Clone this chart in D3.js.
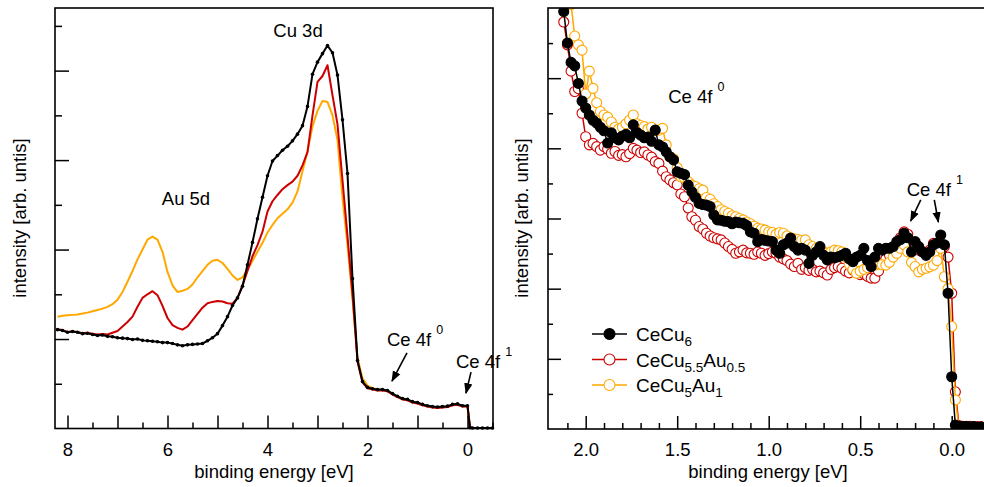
<!DOCTYPE html>
<html>
<head>
<meta charset="utf-8">
<script src="https://cdn.jsdelivr.net/npm/d3@7"></script>
<style>
  body { margin: 0; background: #fff; }
  #showBox { width: 984px; height: 487px; }
</style>
</head>
<body>
<div id="showBox"></div>
<script>
// left panel: wide valence band scan
const leftEnergy = [
    8.2, 8.1, 8.0, 7.9, 7.8, 7.7, 7.6, 7.5, 7.4, 7.3,
    7.2, 7.1, 7.0, 6.9, 6.8, 6.7, 6.6, 6.5, 6.4, 6.3,
    6.2, 6.1, 6.0, 5.9, 5.8, 5.7, 5.6, 5.5, 5.4, 5.3,
    5.2, 5.1, 5.0, 4.9, 4.8, 4.7, 4.6, 4.5, 4.4, 4.3,
    4.2, 4.1, 4.0, 3.9, 3.8, 3.7, 3.6, 3.5, 3.4, 3.3,
    3.2, 3.1, 3.0, 2.9, 2.8, 2.7, 2.6, 2.5, 2.4, 2.3,
    2.2, 2.1, 2.0, 1.9, 1.8, 1.7, 1.6, 1.5, 1.4, 1.3,
    1.2, 1.1, 1.0, 0.9, 0.8, 0.7, 0.6, 0.5, 0.4, 0.3,
    0.2, 0.1, 0.0, -0.05, -0.1, -0.2, -0.3, -0.4, -0.5]
const leftCeCu6 = [
    2.21, 2.19, 2.15, 2.17, 2.15, 2.12, 2.13, 2.10, 2.08, 2.09,
    2.06, 2.05, 2.03, 2.02, 2.01, 1.99, 2.00, 1.97, 1.96, 1.95,
    1.94, 1.92, 1.92, 1.90, 1.87, 1.85, 1.87, 1.88, 1.89, 1.90,
    1.96, 2.03, 2.12, 2.30, 2.50, 2.75, 2.92, 3.18, 3.66, 4.16,
    4.69, 5.17, 5.65, 5.98, 6.10, 6.22, 6.31, 6.43, 6.58, 6.77,
    7.20, 7.92, 8.19, 8.38, 8.56, 8.40, 7.90, 6.90, 5.70, 3.35,
    1.52, 1.05, 0.92, 0.89, 0.87, 0.87, 0.85, 0.78, 0.72, 0.67,
    0.65, 0.60, 0.58, 0.54, 0.51, 0.49, 0.48, 0.49, 0.50, 0.54,
    0.55, 0.51, 0.51, 0.02, 0.01, 0.01, 0.01, 0.01, 0.01]
const leftCeCu55Au05 = [
    2.22, 2.20, 2.16, 2.17, 2.16, 2.13, 2.14, 2.12, 2.10, 2.11,
    2.10, 2.14, 2.18, 2.28, 2.38, 2.50, 2.72, 2.92, 3.00, 3.07,
    2.98, 2.74, 2.47, 2.31, 2.25, 2.21, 2.28, 2.42, 2.56, 2.70,
    2.80, 2.83, 2.85, 2.84, 2.80, 2.79, 2.92, 3.20, 3.52, 3.85,
    4.10, 4.40, 4.85, 5.08, 5.22, 5.35, 5.44, 5.52, 5.65, 5.88,
    6.18, 7.00, 7.75, 7.88, 8.12, 7.45, 6.80, 5.55, 4.30, 3.00,
    1.50, 1.03, 0.90, 0.87, 0.85, 0.85, 0.83, 0.76, 0.70, 0.65,
    0.63, 0.58, 0.56, 0.52, 0.49, 0.47, 0.46, 0.47, 0.48, 0.52,
    0.53, 0.49, 0.49, 0.02, 0.01, 0.01, 0.01, 0.01, 0.01]
const leftCeCu5Au1 = [
    2.50, 2.52, 2.53, 2.54, 2.55, 2.57, 2.59, 2.62, 2.65, 2.68,
    2.72, 2.78, 2.88, 3.05, 3.28, 3.52, 3.78, 4.00, 4.22, 4.29,
    4.22, 3.95, 3.50, 3.20, 3.05, 3.08, 3.12, 3.22, 3.38, 3.52,
    3.66, 3.75, 3.77, 3.70, 3.57, 3.42, 3.32, 3.38, 3.55, 3.75,
    3.95, 4.15, 4.38, 4.55, 4.70, 4.80, 4.90, 5.05, 5.30, 5.75,
    6.20, 6.75, 7.10, 7.32, 7.30, 7.00, 6.45, 5.15, 4.10, 2.90,
    1.58, 1.12, 0.96, 0.90, 0.87, 0.86, 0.84, 0.77, 0.71, 0.66,
    0.64, 0.59, 0.57, 0.53, 0.50, 0.48, 0.47, 0.48, 0.49, 0.52,
    0.54, 0.50, 0.50, 0.02, 0.01, 0.01, 0.01, 0.01, 0.01]

// right panel: near the Fermi level
const rightEnergy = [
    2.12, 2.10, 2.08, 2.06, 2.04, 2.02, 2.00, 1.98, 1.96, 1.94,
    1.92, 1.90, 1.88, 1.86, 1.84, 1.82, 1.80, 1.78, 1.76, 1.74,
    1.72, 1.70, 1.68, 1.66, 1.64, 1.62, 1.60, 1.58, 1.56, 1.54,
    1.52, 1.50, 1.48, 1.46, 1.44, 1.42, 1.40, 1.38, 1.36, 1.34,
    1.32, 1.30, 1.28, 1.26, 1.24, 1.22, 1.20, 1.18, 1.16, 1.14,
    1.12, 1.10, 1.08, 1.06, 1.04, 1.02, 1.00, 0.98, 0.96, 0.94,
    0.92, 0.90, 0.88, 0.86, 0.84, 0.82, 0.80, 0.78, 0.76, 0.74,
    0.72, 0.70, 0.68, 0.66, 0.64, 0.62, 0.60, 0.58, 0.56, 0.54,
    0.52, 0.50, 0.48, 0.46, 0.44, 0.42, 0.40, 0.38, 0.36, 0.34,
    0.32, 0.30, 0.28, 0.26, 0.24, 0.22, 0.20, 0.18, 0.16, 0.14,
    0.12, 0.10, 0.08, 0.06, 0.04, 0.02, 0.00, -0.02, -0.04, -0.06,
    -0.08, -0.10, -0.12, -0.14, -0.16]
const rightCeCu6 = [
    11.9, 11.0, 10.45, 10.35, 9.85, 9.35, 9.15, 8.95, 8.80, 8.72,
    8.60, 8.50, 8.15, 8.44, 8.30, 8.24, 8.35, 8.40, 8.30, 8.67,
    8.45, 8.38, 8.30, 8.32, 8.20, 8.52, 8.10, 8.04, 7.90, 7.76,
    7.67, 7.33, 7.29, 7.25, 6.95, 6.76, 6.60, 6.43, 6.40, 6.38,
    6.34, 6.10, 5.96, 5.95, 5.92, 5.91, 5.85, 5.90, 5.88, 5.86,
    5.80, 5.62, 5.58, 5.34, 5.40, 5.38, 5.36, 5.34, 5.10, 5.01,
    5.25, 5.30, 5.44, 5.20, 5.10, 5.15, 5.10, 4.72, 4.95, 5.05,
    5.20, 4.95, 4.82, 4.90, 4.88, 4.91, 4.95, 5.01, 4.85, 4.77,
    4.90, 4.95, 5.15, 4.80, 4.63, 4.90, 5.15, 5.10, 5.15, 5.15,
    5.20, 5.34, 5.40, 5.58, 5.45, 5.05, 5.34, 5.20, 5.05, 4.95,
    5.05, 5.25, 5.30, 5.53, 5.25, 3.87, 1.49, 0.11, 0.08, 0.07,
    0.08, 0.06, 0.07, 0.05, 0.06]
const rightCeCu55Au05 = [
    11.6, 10.95, 10.20, 9.62, 9.70, 9.00, 8.33, 8.10, 8.14, 8.05,
    7.95, 8.05, 7.98, 7.86, 7.91, 7.80, 7.82, 7.76, 7.85, 8.00,
    7.95, 7.88, 7.90, 7.81, 7.75, 7.62, 7.57, 7.35, 7.19, 7.10,
    7.02, 6.96, 6.70, 6.62, 6.30, 6.05, 5.95, 5.77, 5.70, 5.58,
    5.50, 5.45, 5.42, 5.39, 5.30, 5.20, 5.12, 5.01, 5.05, 5.10,
    5.02, 5.01, 4.98, 5.05, 5.01, 4.95, 5.00, 5.05, 5.01, 4.90,
    4.85, 4.80, 4.70, 4.63, 4.72, 4.55, 4.60, 4.52, 4.55, 4.48,
    4.50, 4.45, 4.39, 4.55, 4.60, 4.63, 4.58, 4.50, 4.45, 4.53,
    4.48, 4.40, 4.42, 4.35, 4.30, 4.30, 4.50, 4.72, 4.85, 4.95,
    5.10, 5.25, 5.45, 5.62, 5.55, 5.30, 5.20, 5.10, 5.05, 5.01,
    5.10, 5.29, 5.25, 5.20, 5.20, 4.90, 3.87, 1.06, 0.10, 0.08,
    0.07, 0.08, 0.06, 0.07, 0.06]
const rightCeCu5Au1 = [
    13.8, 13.0, 12.1, 11.2, 10.95, 10.80, 9.55, 10.20, 9.71, 9.30,
    9.05, 8.95, 8.89, 8.75, 8.60, 8.55, 8.60, 8.70, 8.80, 8.95,
    8.70, 8.65, 8.62, 8.55, 8.60, 8.50, 8.52, 8.57, 8.10, 7.76,
    7.70, 7.45, 7.19, 7.15, 7.05, 6.95, 6.91, 6.85, 6.81, 6.60,
    6.55, 6.42, 6.34, 6.25, 6.20, 6.15, 6.08, 6.05, 6.00, 5.96,
    5.90, 5.85, 5.78, 5.72, 5.70, 5.67, 5.62, 5.60, 5.55, 5.60,
    5.58, 5.50, 5.45, 5.42, 5.40, 5.38, 5.39, 5.25, 5.20, 5.15,
    5.10, 5.05, 5.01, 5.05, 5.10, 5.08, 5.05, 4.90, 4.70, 4.55,
    4.44, 4.50, 4.55, 4.60, 4.65, 4.67, 4.70, 4.68, 4.67, 4.75,
    4.90, 5.01, 5.15, 5.25, 5.05, 4.75, 4.63, 4.48, 4.55, 4.58,
    4.62, 4.67, 4.80, 5.15, 4.34, 4.00, 2.92, 0.83, 0.05, 0.04,
    0.05, 0.04, 0.05, 0.04, 0.05]

const seriesNames = ["CeCu6", "CeCu5.5Au0.5", "CeCu5Au1"]
const seriesColors = ["#000000", "#cc0000", "#ffa800"]

const leftXMajor = [0, 1, 2, 3, 4, 5, 6, 7, 8]
const leftXMinor = [-0.5, 0.5, 1.5, 2.5, 3.5, 4.5, 5.5, 6.5, 7.5]
const rightXMajor = [0.0, 0.5, 1.0, 1.5, 2.0]
const rightXMinor = [-0.1, 0.1, 0.2, 0.3, 0.4, 0.6, 0.7, 0.8, 0.9, 1.1, 1.2, 1.3, 1.4, 1.6, 1.7, 1.8, 1.9, 2.1]

const font = "'Liberation Sans', Arial, Helvetica, sans-serif"

const svg = d3.select("#showBox").append("svg")
    .attr("width", 984)
    .attr("height", 487)
    .style("font-family", font)

const defs = svg.append("defs")
defs.append("marker")
    .attr("id", "arrow")
    .attr("viewBox", "0 0 10 10")
    .attr("refX", 9)
    .attr("refY", 5)
    .attr("markerWidth", 11)
    .attr("markerHeight", 11)
    .attr("markerUnits", "userSpaceOnUse")
    .attr("orient", "auto")
    .append("path")
    .attr("d", "M0,1.2L10,5L0,8.8Z")
    .attr("fill", "#000")
defs.append("clipPath").attr("id", "clipR")
    .append("rect").attr("x", 548).attr("y", 8).attr("width", 446).attr("height", 421)

// scales
const xL = d3.scaleLinear().domain([8.25, -0.51]).range([55, 493])
const yL = d3.scaleLinear().domain([0, 9.4]).range([428.5, 8])
const xR = d3.scaleLinear().domain([2.0, 0.0]).range([585.7, 951.7])
const yR = d3.scaleLinear().domain([0, 12]).range([429, 8])

function drawAxes(x, y, box, xMajor, xMinor, xFmt, yMajor, yMinor, yLen, titleX, titleY) {
    const g = svg.append("g")
    const big = g.append("g").attr("transform", `translate(0,${box.bottom})`)
        .call(d3.axisBottom(x).tickValues(xMajor).tickSize(-13).tickPadding(14).tickFormat(xFmt))
    g.append("g").attr("transform", `translate(0,${box.bottom})`)
        .call(d3.axisBottom(x).tickValues(xMinor).tickSize(-6).tickFormat(""))
    g.append("g").attr("transform", `translate(${box.left},0)`)
        .call(d3.axisLeft(y).tickValues(yMajor).tickSize(-yLen[0]).tickFormat(""))
    g.append("g").attr("transform", `translate(${box.left},0)`)
        .call(d3.axisLeft(y).tickValues(yMinor).tickSize(-yLen[1]).tickFormat(""))
    g.selectAll(".domain").remove()
    g.selectAll(".tick line").attr("stroke", "#000").attr("stroke-width", 1.5)
    big.selectAll("text")
        .attr("font-family", font)
        .attr("font-size", 18.5)
        .attr("fill", "#000")

    g.append("rect")
        .attr("x", box.left).attr("y", box.top)
        .attr("width", box.right - box.left).attr("height", box.bottom - box.top)
        .attr("fill", "none").attr("stroke", "#000").attr("stroke-width", 1.6)

    g.append("text")
        .attr("x", titleX).attr("y", 478)
        .attr("text-anchor", "middle")
        .attr("font-size", 18.5)
        .text("binding energy [eV]")
    g.append("text")
        .attr("transform", `translate(${titleY},218) rotate(-90)`)
        .attr("text-anchor", "middle")
        .attr("font-size", 18.5)
        .text("intensity [arb. untis]")
}

// ---------- left panel ----------
const leftSeries = [
    {values: leftCeCu5Au1, color: seriesColors[2]},
    {values: leftCeCu55Au05, color: seriesColors[1]},
    {values: leftCeCu6, color: seriesColors[0], dots: true}
]
const lineL = d3.line().x(d => xL(d[0])).y(d => yL(d[1]))

const gl = svg.append("g")
leftSeries.forEach(s => {
    const pts = leftEnergy.map((e, i) => [e, s.values[i]])
    gl.append("path")
        .attr("d", lineL(pts))
        .attr("fill", "none")
        .attr("stroke", s.color)
        .attr("stroke-width", 2)
        .attr("stroke-linejoin", "round")
    if (s.dots) {
        gl.append("g").selectAll("circle")
            .data(pts)
            .join("circle")
            .attr("cx", d => xL(d[0]))
            .attr("cy", d => yL(d[1]))
            .attr("r", 1.8)
            .attr("fill", s.color)
    }
})

drawAxes(xL, yL, {left: 55, right: 493, top: 8, bottom: 428.5},
    leftXMajor, leftXMinor, d => d % 2 === 0 ? d : "",
    [2, 4, 6, 8], [1, 3, 5, 7, 9], [14, 7], 274, 26)

// ---------- right panel ----------
const rightSeries = [
    {values: rightCeCu55Au05, color: seriesColors[1], open: true},
    {values: rightCeCu5Au1, color: seriesColors[2], open: true},
    {values: rightCeCu6, color: seriesColors[0], open: false}
]
const lineR = d3.line().x(d => xR(d[0])).y(d => yR(d[1]))

const gr = svg.append("g").attr("clip-path", "url(#clipR)")
rightSeries.forEach(s => {
    const pts = rightEnergy.map((e, i) => [e, s.values[i]])
    gr.append("path")
        .attr("d", lineR(pts))
        .attr("fill", "none")
        .attr("stroke", s.color)
        .attr("stroke-width", 1.5)
    gr.append("g").selectAll("circle")
        .data(pts)
        .join("circle")
        .attr("cx", d => xR(d[0]))
        .attr("cy", d => yR(d[1]))
        .attr("r", 5)
        .attr("fill", s.open ? "#fff" : s.color)
        .attr("stroke", s.color)
        .attr("stroke-width", 1.1)
})

drawAxes(xR, yR, {left: 548, right: 994, top: 8, bottom: 429},
    rightXMajor, rightXMinor, d3.format(".1f"),
    [2, 4, 6, 8, 10], [1, 3, 5, 7, 9, 11], [13, 5], 768, 528)

// ---------- annotations ----------
function label(x, y, txt, sup, anchor) {
    const t = svg.append("text")
        .attr("x", x).attr("y", y)
        .attr("font-size", 18.5)
        .attr("text-anchor", anchor || "start")
        .text(txt)
    if (sup) {
        t.append("tspan").attr("dx", 5).attr("dy", -12).attr("font-size", 12.5).text(sup)
    }
}
function arrow(x1, y1, x2, y2) {
    svg.append("line")
        .attr("x1", x1).attr("y1", y1).attr("x2", x2).attr("y2", y2)
        .attr("stroke", "#000").attr("stroke-width", 1.6)
        .attr("marker-end", "url(#arrow)")
}

label(xL(3.39), yL(8.75), "Cu 3d", null, "middle")
label(xL(5.63), yL(5.0), "Au 5d", null, "middle")
label(xL(1.61), yL(1.84), "Ce 4f", "0")
arrow(xL(1.21), yL(1.69), xL(1.51), yL(1.06))
label(xL(0.23), yL(1.35), "Ce 4f", "1")
arrow(xL(-0.07), yL(1.26), xL(0.03), yL(0.79))

label(xR(1.549), yR(9.29), "Ce 4f", "0")
label(xR(0.246), yR(6.64), "Ce 4f", "1")
arrow(xR(0.169), yR(6.53), xR(0.224), yR(5.93))
arrow(xR(0.095), yR(6.53), xR(0.073), yR(5.90))

// ---------- legend ----------
const legendRows = [
    {parts: [["CeCu", 0], ["6", 1]], color: seriesColors[0], open: false},
    {parts: [["CeCu", 0], ["5.5", 1], ["Au", 0], ["0.5", 1]], color: seriesColors[1], open: true},
    {parts: [["CeCu", 0], ["5", 1], ["Au", 0], ["1", 1]], color: seriesColors[2], open: true}
]
const legend = svg.append("g")
legendRows.forEach((row, i) => {
    const y = 334 + i * 25.5
    legend.append("line")
        .attr("x1", 592).attr("x2", 627).attr("y1", y).attr("y2", y)
        .attr("stroke", row.color).attr("stroke-width", 1.5)
    legend.append("circle")
        .attr("cx", 609.5).attr("cy", y).attr("r", 5.5)
        .attr("fill", row.open ? "#fff" : row.color)
        .attr("stroke", row.color).attr("stroke-width", 1.1)
    const t = legend.append("text").attr("x", 636).attr("y", y + 7).attr("font-size", 19)
    let sub = 0
    row.parts.forEach(([s, isSub]) => {
        const dy = isSub ? (sub ? 0 : 5) : (sub ? -5 : 0)
        sub = isSub
        t.append("tspan").attr("dy", dy).attr("font-size", isSub ? 13.5 : 19).text(s)
    })
})
</script>
</body>
</html>
